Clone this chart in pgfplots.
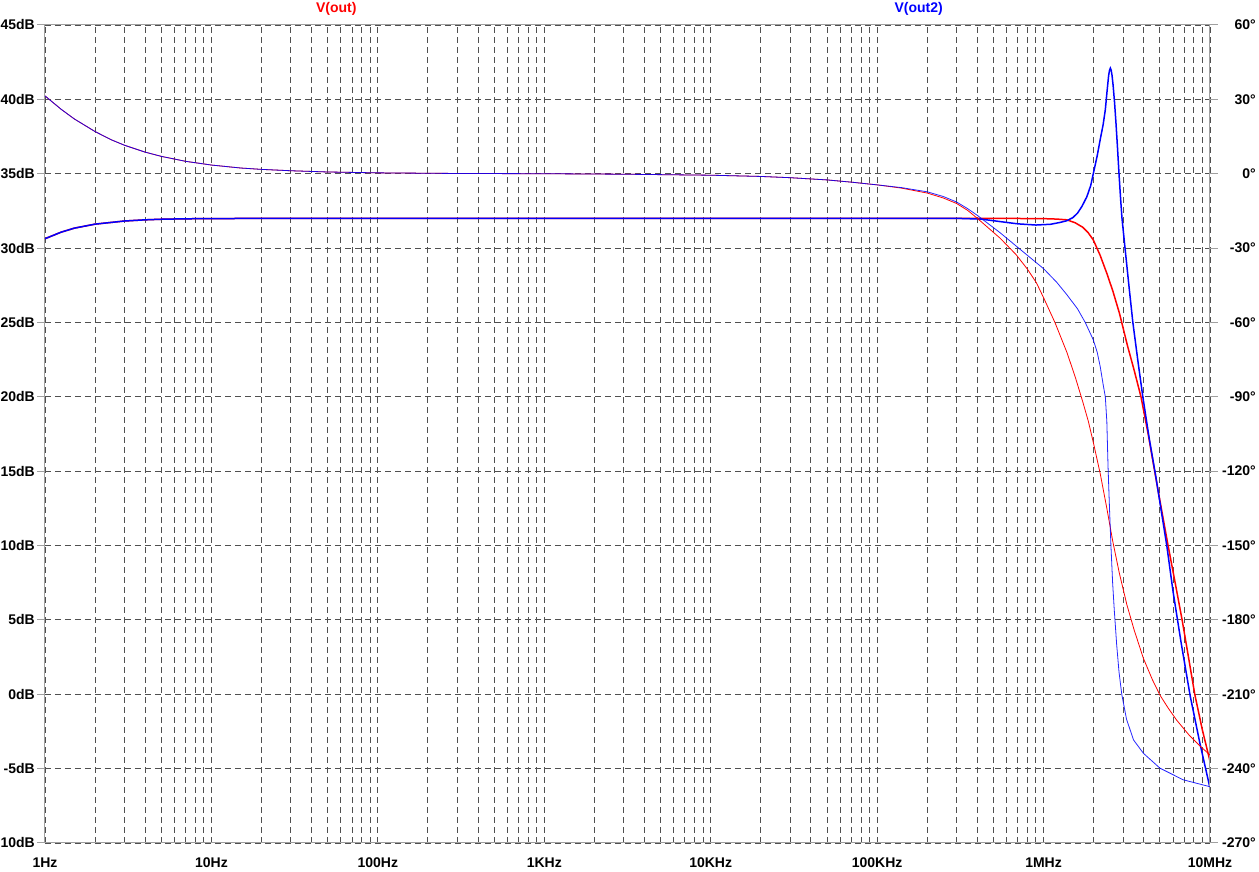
\documentclass[border=0pt]{standalone}
\usepackage{fontspec}
\setmainfont{Liberation Sans}
\usepackage{pgfplots}
\pgfplotsset{compat=1.18}
\usepackage{pgfplotstable}

\definecolor{gridc}{RGB}{80,80,80}
\definecolor{axisc}{RGB}{160,160,160}
\definecolor{spred}{RGB}{255,0,0}
\definecolor{spblue}{RGB}{0,0,255}

\pgfplotstableread{
f db
1 30.63
1.25 31.07
1.5 31.34
2 31.61
3 31.82
4 31.90
5 31.94
7 31.97
10 31.98
20 32.0
1e5 32.0
5e5 32.0
1e6 31.98
1.2e6 31.95
1.38e6 31.9
1.55e6 31.7
1.72e6 31.4
1.85e6 31.05
1.99e6 30.55
2.19e6 29.5
2.4e6 28.3
2.61e6 27.1
2.86e6 25.6
3.2e6 23.4
3.5e6 21.8
3.85e6 20.0
4.25e6 17.5
4.65e6 15.0
5.1e6 12.5
5.6e6 10.0
6.2e6 7.4
6.8e6 5.0
7.4e6 2.6
8.1e6 0.0
9.0e6 -2.4
1e7 -4.5
}\magout

\pgfplotstableread{
f db
1 30.63
1.25 31.07
1.5 31.34
2 31.61
3 31.82
4 31.90
5 31.94
7 31.97
10 31.98
20 32.0
1e5 32.0
3e5 32.0
4.2e5 31.95
5.5e5 31.78
7e5 31.63
9e5 31.55
1.1e6 31.6
1.25e6 31.72
1.38e6 31.84
1.5e6 32.05
1.6e6 32.35
1.7e6 32.8
1.82e6 33.45
1.92e6 34.2
1.99e6 35.0
2.1e6 36.2
2.19e6 37.3
2.28e6 38.3
2.35e6 39.3
2.41e6 40.6
2.46e6 41.6
2.49e6 41.95
2.52e6 42.1
2.55e6 41.95
2.58e6 41.6
2.62e6 40.9
2.67e6 39.8
2.72e6 38.5
2.78e6 36.8
2.84e6 35.0
2.9e6 33.4
2.96e6 32.0
3.1e6 29.8
3.27e6 27.3
3.44e6 25.0
3.7e6 22.3
3.95e6 20.0
4.3e6 17.3
4.7e6 14.8
5.1e6 12.3
5.5e6 10.0
6.0e6 6.9
6.7e6 3.5
7.6e6 -0.1
8.7e6 -3.3
1e7 -6.3
}\magouttwo

\pgfplotstableread{
f ph
1 31.4
1.25 26.0
1.5 22.1
2 17.0
2.5 13.7
3 11.5
4 8.7
5 7.0
7 5.0
10 3.5
15 2.3
20 1.75
30 1.2
50 0.7
100 0.35
300 0.1
1000 0
3000 -0.2
1e4 -0.6
2e4 -1.1
3e4 -1.6
5e4 -2.5
7e4 -3.4
1e5 -4.5
1.4e5 -5.8
2e5 -7.8
2.5e5 -9.8
3e5 -12.0
3.5e5 -14.8
4e5 -18.0
5.48e5 -26.0
6.83e5 -32.6
8e5 -38.5
9.06e5 -44
1e6 -50
1.17e6 -60
1.38e6 -72
1.55e6 -82
1.72e6 -92
1.86e6 -100
2.0e6 -109
2.19e6 -121
2.4e6 -135
2.6e6 -148
2.85e6 -161
3.17e6 -174
3.5e6 -184
3.98e6 -195.5
4.5e6 -204
5.0e6 -210.3
5.6e6 -215.5
6.3e6 -220.4
7.5e6 -226.5
8.75e6 -231
1e7 -234.5
}\phout

\pgfplotstableread{
f ph
1 31.4
1.25 26.0
1.5 22.1
2 17.0
2.5 13.7
3 11.5
4 8.7
5 7.0
7 5.0
10 3.5
15 2.3
20 1.75
30 1.2
50 0.7
100 0.35
300 0.1
1000 0
3000 -0.2
1e4 -0.6
2e4 -1.1
3e4 -1.6
5e4 -2.5
7e4 -3.4
1e5 -4.5
1.4e5 -5.6
2e5 -7.3
2.5e5 -9.2
3e5 -11.4
3.5e5 -14.1
4e5 -16.8
5.48e5 -23.8
7.23e5 -30.5
1e6 -38.3
1.2e6 -43.8
1.38e6 -48.8
1.6e6 -54.5
1.78e6 -60
1.99e6 -67
2.1e6 -72
2.19e6 -77.8
2.28e6 -85
2.35e6 -90
2.40e6 -100
2.44e6 -118
2.49e6 -135
2.54e6 -150
2.6e6 -165
2.66e6 -176
2.75e6 -190
2.84e6 -201
2.95e6 -210
3.15e6 -220
3.47e6 -228.4
3.98e6 -233.8
5.0e6 -239.8
6.9e6 -244.5
1e7 -247.3
}\phouttwo

\begin{document}
\fontsize{14}{16}\selectfont
\begin{tikzpicture}
\begin{axis}[
  name=main,
  scale only axis, width=1165pt, height=818pt,
  at={(0pt,0pt)}, anchor=south west,
  xmode=log, xmin=1, xmax=1e7,
  ymin=-10, ymax=45,
  xtick={1,10,100,1000,1e4,1e5,1e6,1e7},
  xticklabels={1Hz,10Hz,100Hz,1KHz,10KHz,100KHz,1MHz,10MHz},
  minor xtick={2,3,4,5,6,7,8,9,20,30,40,50,60,70,80,90,200,300,400,500,600,700,800,900,2000,3000,4000,5000,6000,7000,8000,9000,2e4,3e4,4e4,5e4,6e4,7e4,8e4,9e4,2e5,3e5,4e5,5e5,6e5,7e5,8e5,9e5,2e6,3e6,4e6,5e6,6e6,7e6,8e6,9e6},
  ytick={-10,-5,0,5,10,15,20,25,30,35,40,45},
  yticklabels={-10dB,-5dB,0dB,5dB,10dB,15dB,20dB,25dB,30dB,35dB,40dB,45dB},
  xtick pos=bottom, ytick pos=left,
  tick align=outside,
  major tick length=8pt, minor tick length=0pt,
  xtick style={draw=none},
  ytick style={draw=axisc, line width=1pt},
  xmajorgrids, xminorgrids, ymajorgrids,
  major grid style={draw=gridc, line width=0.9pt, dash pattern=on 6pt off 4pt},
  minor grid style={draw=gridc, line width=0.9pt, dash pattern=on 6pt off 4pt},
  axis line style={draw=axisc, line width=1pt},
  ticklabel style={font=\fontsize{14}{16}\selectfont\bfseries, inner sep=0pt},
  yticklabel style={anchor=east, xshift=-2pt},
  xticklabel style={anchor=north, yshift=-7pt},
  clip mode=individual,
]
\addplot[spred, line width=1.5pt] table[x=f, y=db] {\magout};
\addplot[spblue, line width=1.5pt] table[x=f, y=db] {\magouttwo};
\node[font=\fontsize{14}{16}\selectfont\bfseries, text=spred, anchor=center] at (rel axis cs:0.25,1) [yshift=16pt] {V(out)};
\node[font=\fontsize{14}{16}\selectfont\bfseries, text=spblue, anchor=center] at (rel axis cs:0.75,1) [yshift=16pt] {V(out2)};
\end{axis}
\begin{axis}[
  scale only axis, width=1165pt, height=818pt,
  at={(0pt,0pt)}, anchor=south west,
  xmode=log, xmin=1, xmax=1e7,
  ymin=-270, ymax=60,
  axis x line=none, axis y line*=right,
  ytick={-270,-240,-210,-180,-150,-120,-90,-60,-30,0,30,60},
  yticklabels={-270°,-240°,-210°,-180°,-150°,-120°,-90°,-60°,-30°,0°,30°,60°},
  tick align=outside,
  major tick length=8pt, minor tick length=0pt,
  ytick style={draw=axisc, line width=1pt},
  axis line style={draw=axisc, line width=1pt},
  ticklabel style={font=\fontsize{14}{16}\selectfont\bfseries, inner sep=0pt},
  yticklabel style={anchor=east, xshift=38pt},
  clip mode=individual,
]
\addplot[spred, line width=0.8pt] table[x=f, y=ph] {\phout};
\addplot[spblue, line width=0.8pt, opacity=0.85] table[x=f, y=ph] {\phouttwo};
\end{axis}
\pgfresetboundingbox
\path[use as bounding box] (-45pt,-29pt) rectangle (1214pt,843pt);
\end{tikzpicture}
\end{document}
